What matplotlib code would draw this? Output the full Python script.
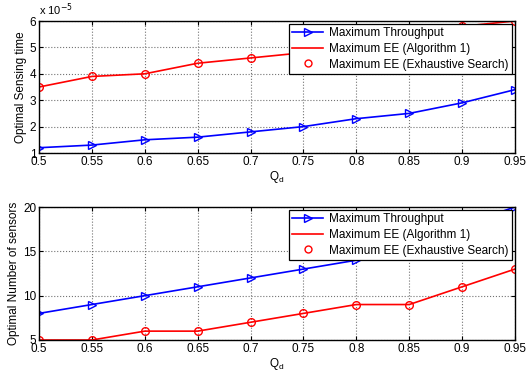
import matplotlib.pyplot as plt
from matplotlib.lines import Line2D
from matplotlib.ticker import FormatStrFormatter

plt.rcParams['font.family'] = ['Liberation Sans', 'DejaVu Sans']
plt.rcParams['font.size'] = 8.5

qd = [0.5, 0.55, 0.6, 0.65, 0.7, 0.75, 0.8, 0.85, 0.9, 0.95]

# optimal sensing time (seconds)
time_thr = [1.2e-5, 1.3e-5, 1.5e-5, 1.6e-5, 1.8e-5, 2.0e-5, 2.3e-5, 2.5e-5, 2.9e-5, 3.4e-5]
time_ee = [3.5e-5, 3.9e-5, 4.0e-5, 4.4e-5, 4.6e-5, 4.8e-5, 5.0e-5, 5.3e-5, 5.8e-5, 6.0e-5]

# optimal number of sensors
n_thr = [8, 9, 10, 11, 12, 13, 14, 16, 18, 20]
n_ee = [5, 5, 6, 6, 7, 8, 9, 9, 11, 13]

scale = 1e-5

fig = plt.figure(figsize=(5.26, 3.76), dpi=100)
W, H = 526, 376
ax1 = fig.add_axes([39 / W, 1 - 153 / H, 476 / W, 132 / H])
ax2 = fig.add_axes([39 / W, 1 - 340 / H, 476 / W, 133 / H])


def draw(ax, thr, ee, ylim, yticks, ylabel):
    ax.plot(qd, thr, color='blue', marker='>', markersize=6,
            markerfacecolor='none', markeredgewidth=1.0, linewidth=1.2)
    ax.plot(qd, ee, color='red', linewidth=1.2)
    ax.plot(qd, ee, linestyle='none', marker='o', markersize=5.5,
            markerfacecolor='none', markeredgecolor='red', markeredgewidth=1.0)
    ax.set_xlim(0.5, 0.95)
    ax.set_ylim(*ylim)
    ax.set_xticks(qd)
    ax.set_yticks(yticks)
    ax.xaxis.set_major_formatter(FormatStrFormatter('%g'))
    ax.yaxis.set_major_formatter(FormatStrFormatter('%g'))
    ax.tick_params(direction='in', top=True, right=True, length=3, pad=2)
    ax.grid(True, linestyle=':', color='0.45', linewidth=0.8)
    for s in ax.spines.values():
        s.set_linewidth(1.0)
    ax.set_xlabel(r'Q$_\mathregular{d}$', labelpad=1)
    ax.set_ylabel(ylabel, labelpad=2)
    handles = [
        Line2D([], [], color='blue', marker='>', markerfacecolor='none', linewidth=1.2),
        Line2D([], [], color='red', linewidth=1.2),
        Line2D([], [], color='red', marker='o', linestyle='none',
               markerfacecolor='none', markersize=5),
    ]
    labels = ['Maximum Throughput', 'Maximum EE (Algorithm 1)',
              'Maximum EE (Exhaustive Search)']
    leg = ax.legend(handles, labels, loc='upper right', fancybox=False,
                    edgecolor='black', framealpha=1, borderpad=0.3,
                    labelspacing=0.3, handlelength=2.6, handletextpad=0.5,
                    borderaxespad=0.25)
    leg.get_frame().set_linewidth(0.9)


draw(ax1, [t / scale for t in time_thr], [t / scale for t in time_ee],
     (1, 6), [1, 2, 3, 4, 5, 6], 'Optimal Sensing time')
ax1.text(0.0, 1.02, r'x 10$^{-5}$', transform=ax1.transAxes, fontsize=8,
         ha='left', va='bottom')

draw(ax2, n_thr, n_ee, (5, 20), [5, 10, 15, 20], 'Optimal Number of sensors')

fig.savefig('out.png', dpi=100)
